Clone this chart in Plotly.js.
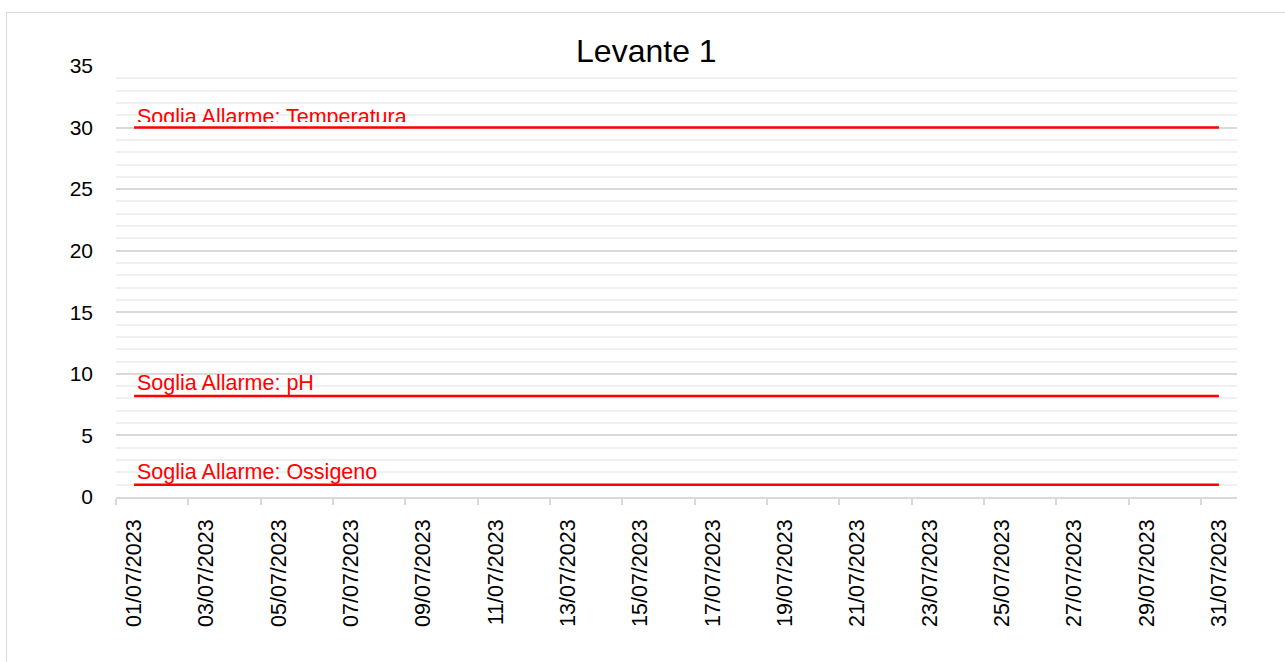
<!DOCTYPE html>
<html>
<head>
<meta charset="utf-8">
<script src="https://cdn.plot.ly/plotly-3.0.1.min.js"></script>
<style>
  html, body { margin: 0; padding: 0; background: #ffffff; }
  #wrap { position: relative; width: 1285px; height: 662px; overflow: hidden; }
  #frame { position: absolute; left: 6px; top: 12px; width: 1300px; height: 700px;
           border-left: 1.5px solid #d9d9d9; border-top: 1.5px solid #d9d9d9; }
  #chart { position: absolute; left: 0; top: 0; width: 1285px; height: 662px; }
</style>
</head>
<body>
<div id="wrap">
  <div id="frame"></div>
  <div id="chart"></div>
</div>
<script>
const dates = [
  "01/07/2023","02/07/2023","03/07/2023","04/07/2023","05/07/2023","06/07/2023",
  "07/07/2023","08/07/2023","09/07/2023","10/07/2023","11/07/2023","12/07/2023",
  "13/07/2023","14/07/2023","15/07/2023","16/07/2023","17/07/2023","18/07/2023",
  "19/07/2023","20/07/2023","21/07/2023","22/07/2023","23/07/2023","24/07/2023",
  "25/07/2023","26/07/2023","27/07/2023","28/07/2023","29/07/2023","30/07/2023",
  "31/07/2023"
];
const sogliaTemperatura = [30,30,30,30,30,30,30,30,30,30,30,30,30,30,30,30,30,30,30,30,30,30,30,30,30,30,30,30,30,30,30];
const sogliaPH = [8.2,8.2,8.2,8.2,8.2,8.2,8.2,8.2,8.2,8.2,8.2,8.2,8.2,8.2,8.2,8.2,8.2,8.2,8.2,8.2,8.2,8.2,8.2,8.2,8.2,8.2,8.2,8.2,8.2,8.2,8.2];
const sogliaOssigeno = [1,1,1,1,1,1,1,1,1,1,1,1,1,1,1,1,1,1,1,1,1,1,1,1,1,1,1,1,1,1,1];
const seriesNames = ["Soglia Allarme: Temperatura", "Soglia Allarme: pH", "Soglia Allarme: Ossigeno"];
const titleText = "Levante 1";

const FONT = "'Liberation Sans', Arial, sans-serif";
const RED = "#ff0000";

const seriesValues = [sogliaTemperatura, sogliaPH, sogliaOssigeno];
const traces = seriesValues.map((vals, i) => ({
  type: "scatter",
  mode: "lines",
  x: dates,
  y: vals,
  name: seriesNames[i],
  line: { color: RED, width: 2.5 },
  hoverinfo: "x+y+name"
}));

const annotations = seriesValues.map((vals, i) => {
  const a = {
    x: dates[0], y: vals[0], xref: "x", yref: "y",
    text: seriesNames[i],
    showarrow: false,
    xanchor: "left", yanchor: "bottom",
    xshift: 1, yshift: -1,
    font: { family: FONT, size: 21.5, color: RED }
  };
  if (i === 0) {
    a.height = 17;
    a.valign = "top";
    a.yshift = 4;
  }
  return a;
});

const layout = {
  width: 1285, height: 662,
  margin: { l: 116, r: 48, t: 66, b: 165, pad: 0 },
  paper_bgcolor: "rgba(0,0,0,0)",
  plot_bgcolor: "rgba(0,0,0,0)",
  showlegend: false,
  font: { family: FONT, size: 21, color: "#000000" },
  title: {
    text: titleText,
    font: { family: FONT, size: 32, color: "#000000" },
    xref: "container", x: 0.503, xanchor: "center",
    yref: "container", y: 1 - 62/662, yanchor: "bottom"
  },
  xaxis: {
    type: "category",
    range: [-0.5, 30.5],
    tickmode: "linear", tick0: 0, dtick: 2,
    tickson: "boundaries",
    ticks: "outside", ticklen: 6, tickwidth: 1.5, tickcolor: "#d9d9d9",
    showline: true, linecolor: "#d9d9d9", linewidth: 1.5,
    showgrid: false, zeroline: false,
    tickangle: -90,
    ticklabelstandoff: 12,
    tickfont: { family: FONT, size: 21.5, color: "#000000" }
  },
  yaxis: {
    range: [0, 35],
    tickmode: "linear", tick0: 0, dtick: 5,
    showgrid: true, gridcolor: "#d9d9d9", gridwidth: 1.5,
    minor: { dtick: 1, showgrid: true, gridcolor: "#f0f0f0", gridwidth: 1.5 },
    zeroline: false, showline: false,
    ticks: "",
    ticklabelstandoff: 22,
    tickfont: { family: FONT, size: 21, color: "#000000" }
  },
  annotations: annotations
};

Plotly.newPlot("chart", traces, layout, { displayModeBar: false, responsive: false });
</script>
</body>
</html>
